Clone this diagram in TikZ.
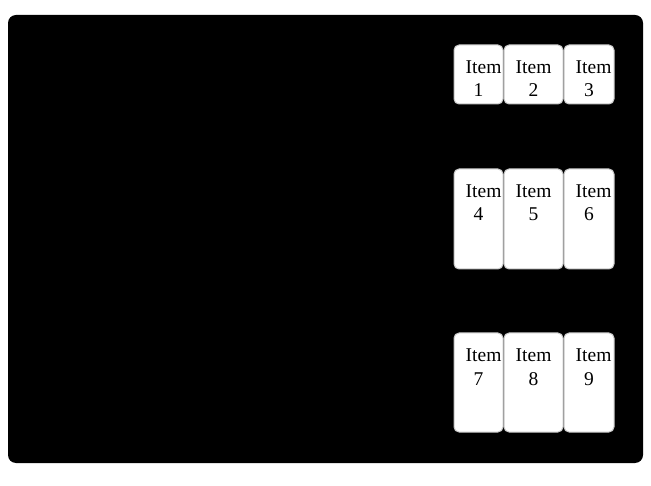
\documentclass[tikz,border=0pt]{standalone}
\usepackage{fontspec}
\setmainfont{Liberation Serif}
\begin{document}
\begin{tikzpicture}[x=1pt,y=-1pt,
  itembox/.style={draw=black!22, line width=1pt, fill=white, rounded corners=5pt, inner sep=0pt, outer sep=0pt},
  lbl/.style={inner sep=0pt, font=\fontsize{19.5}{23}\selectfont, text=black}]
\useasboundingbox[fill=white] (0,0) rectangle (651,486);
\fill[black, rounded corners=8pt] (8,15) rectangle (643,463);
% columns: left, center, width
\foreach \r/\top/\h in {0/45/59, 1/169/100, 2/333/99}{
  \foreach \c/\l/\w in {0/454/49, 1/504/59, 2/564/50}{
    \pgfmathtruncatemacro{\n}{3*\r+\c+1}
    \node[itembox, minimum width=\w, minimum height=\h, anchor=north west] (box\n) at (\l,\top) {};
    \node[lbl, anchor=base west] (itm\n) at ([xshift=11.5pt,yshift=-29pt]box\n.north west) {Item};
    \node[lbl, anchor=base] (num\n) at ([yshift=-52pt]box\n.north) {\n};
  }
}
\end{tikzpicture}
\end{document}
